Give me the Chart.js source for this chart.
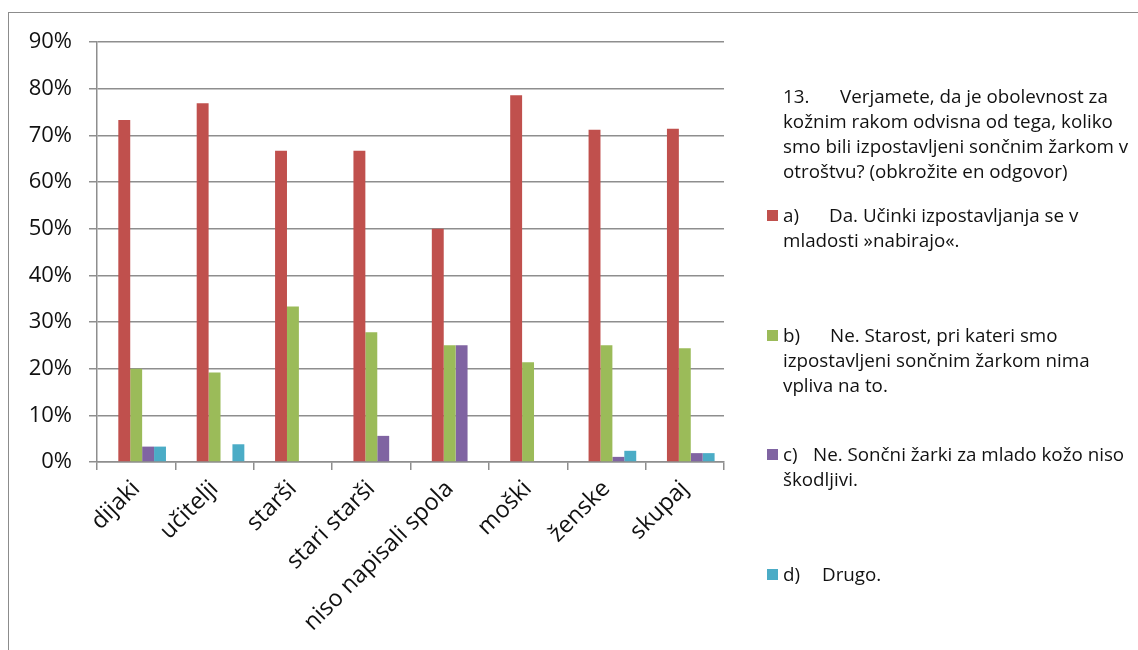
<!DOCTYPE html>
<html>
<head>
<meta charset="utf-8">
<script src="https://cdn.jsdelivr.net/npm/chart.js@4.4.1/dist/chart.umd.min.js"></script>
<style>
  html, body { margin: 0; padding: 0; background: #fff; overflow: hidden; }
  #wrap { position: relative; width: 1138px; height: 650px; overflow: hidden; }
  #frame { position: absolute; left: 8px; top: 12px; width: 1400px; height: 900px;
           border-left: 1.5px solid #8c8c8c; border-top: 1.5px solid #8c8c8c; }
  canvas { position: absolute; left: 0; top: 0; }
  #legend { position: absolute; left: 0; top: 0; width: 1138px; height: 650px;
            font-family: "Open Sans", sans-serif; font-size: 18.8px; color: #111; }
  .entry { position: absolute; left: 783px; line-height: 25px; white-space: pre-line; }
  .entry .pre { display: inline-block; }
  .swatch { position: absolute; left: -16px; top: 7px; width: 11px; height: 11px; }
</style>
</head>
<body>
<div id="wrap">
  <div id="frame"></div>
  <canvas id="chart" width="1138" height="650"></canvas>
  <div id="legend"></div>
</div>
<script>
// Skupine anketirancev
const categories = ['dijaki', 'učitelji', 'starši', 'stari starši', 'niso napisali spola', 'moški', 'ženske', 'skupaj'];

// Deleži odgovorov (v %)
const seriesA = [73.3, 76.9, 66.7, 66.7, 50.0, 78.6, 71.2, 71.4];
const seriesB = [20.0, 19.2, 33.3, 27.8, 25.0, 21.4, 25.0, 24.4];
const seriesC = [3.3, 0, 0, 5.6, 25.0, 0, 1.1, 1.9];
const seriesD = [3.3, 3.8, 0, 0, 0, 0, 2.4, 1.9];

const seriesNames = [
  'a)\tDa. Učinki izpostavljanja se v\nmladosti »nabirajo«.',
  'b)\tNe. Starost, pri kateri smo\nizpostavljeni sončnim žarkom nima\nvpliva na to.',
  'c)\tNe. Sončni žarki za mlado kožo niso\nškodljivi.',
  'd)\tDrugo.'
];
const legendTitle = '13.\tVerjamete, da je obolevnost za\nkožnim rakom odvisna od tega, koliko\nsmo bili izpostavljeni sončnim žarkom v\notroštvu? (obkrožite en odgovor)';

const yMax = 90;
const yStep = 10;

const colors = ['#C0504D', '#9BBB59', '#8064A2', '#4BACC6'];
const seriesValues = [seriesA, seriesB, seriesC, seriesD];

// an empty leading slot keeps each cluster shifted like the original layout
const datasets = [{ label: '', data: categories.map(() => null), backgroundColor: 'rgba(0,0,0,0)' }]
  .concat(seriesValues.map((vals, i) => ({
    label: seriesNames[i],
    data: vals,
    backgroundColor: colors[i],
    borderWidth: 0
  })));

const gridColor = '#8e8e8e';

new Chart(document.getElementById('chart'), {
  type: 'bar',
  data: { labels: categories, datasets },
  options: {
    responsive: false,
    animation: false,
    devicePixelRatio: 1,
    layout: { padding: { left: 0, top: 42, right: 414, bottom: 0 } },
    plugins: { legend: { display: false }, tooltip: { enabled: false } },
    datasets: { bar: { categoryPercentage: 0.76, barPercentage: 1.0 } },
    scales: {
      x: {
        grid: { drawOnChartArea: false, drawTicks: true, tickLength: 8, color: gridColor, lineWidth: 1.5, offset: true },
        border: { color: gridColor, width: 1.5 },
        ticks: {
          minRotation: 45, maxRotation: 45, padding: 5, autoSkip: false,
          color: '#111', font: { family: 'Open Sans', size: 23.5 }
        },
        afterFit: (s) => { s.height = 188; }
      },
      y: {
        min: 0, max: yMax,
        grid: { color: gridColor, lineWidth: 1.5, tickLength: 8 },
        border: { color: gridColor, width: 1.5 },
        ticks: {
          stepSize: yStep, padding: 17,
          color: '#111', font: { family: 'Open Sans', size: 22 },
          callback: (v) => v + '%'
        },
        afterFit: (s) => { s.width = 97; }
      }
    }
  }
});

// Legenda desno od grafa
const legend = document.getElementById('legend');
const preWidths = [57, 46, 47, 30, 39];
function makeEntry(text, top, preW, color) {
  const el = document.createElement('div');
  el.className = 'entry';
  el.style.top = top + 'px';
  const parts = text.split('\t');
  const pre = document.createElement('span');
  pre.className = 'pre';
  pre.style.width = preW + 'px';
  pre.textContent = parts[0];
  el.appendChild(pre);
  el.appendChild(document.createTextNode(parts[1]));
  if (color) {
    const sw = document.createElement('span');
    sw.className = 'swatch';
    sw.style.background = color;
    el.appendChild(sw);
  }
  legend.appendChild(el);
}
makeEntry(legendTitle, 84, preWidths[0], null);
seriesNames.forEach((name, i) => makeEntry(name, 203 + i * 119.7, preWidths[i + 1], colors[i]));
</script>
</body>
</html>
